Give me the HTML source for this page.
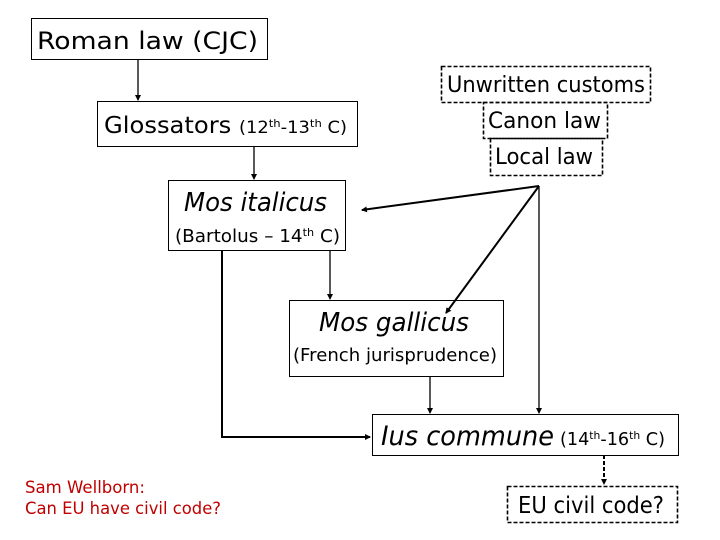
<!DOCTYPE html>
<html><head><meta charset="utf-8"><style>
html,body{margin:0;padding:0;background:#fff;}
svg{display:block;}
text{font-family:"DejaVu Sans","Liberation Sans",sans-serif;fill:#000;}
</style></head><body>
<svg width="720" height="540" viewBox="0 0 720 540" xmlns="http://www.w3.org/2000/svg">
<defs>
<marker id="a" markerWidth="6" markerHeight="6" refX="5" refY="3" orient="auto" markerUnits="userSpaceOnUse"><path d="M0,0 L6,3 L0,6 z" fill="#000"/></marker>
</defs>
<g fill="none" stroke="#000" stroke-width="1">
<rect x="31.5" y="18.5" width="236" height="41"/>
<rect x="97.5" y="101.5" width="260" height="45"/>
<rect x="168.5" y="180.5" width="177" height="70"/>
<rect x="289.5" y="300.5" width="214" height="76"/>
<rect x="372.5" y="414.5" width="306" height="41"/>
</g>
<g fill="none" stroke="#000" stroke-width="1.6" stroke-dasharray="4,2">
<rect x="441.5" y="66.5" width="209" height="36"/>
<rect x="483.5" y="102.5" width="124" height="36"/>
<rect x="490.5" y="138.5" width="112" height="37"/>
<rect x="507.5" y="486.5" width="170" height="36"/>
</g>
<g fill="none" stroke="#000" stroke-width="1.3">
<line x1="138" y1="59" x2="138" y2="100" marker-end="url(#a)"/>
<line x1="254" y1="146" x2="254" y2="179" marker-end="url(#a)"/>
<line x1="330" y1="250" x2="330" y2="299" marker-end="url(#a)"/>
<line x1="430" y1="376" x2="430" y2="413" marker-end="url(#a)"/>
<line x1="539" y1="186" x2="539" y2="413" marker-end="url(#a)"/>
</g>
<g fill="none" stroke="#000" stroke-width="2">
<line x1="539" y1="186" x2="362" y2="210" marker-end="url(#a)"/>
<line x1="539" y1="186" x2="446" y2="313" marker-end="url(#a)"/>
<polyline points="222,250 222,437 370,437" marker-end="url(#a)"/>
<line x1="604" y1="455" x2="604" y2="484" stroke-dasharray="4,2" marker-end="url(#a)"/>
</g>
<text x="37" y="49" font-size="24" textLength="221" lengthAdjust="spacingAndGlyphs">Roman law (CJC)</text>
<text x="104" y="133" font-size="23" textLength="243" lengthAdjust="spacingAndGlyphs">Glossators <tspan font-size="17">(12<tspan font-size="11" dy="-6">th</tspan><tspan dy="6">-13</tspan><tspan font-size="11" dy="-6">th</tspan><tspan dy="6"> C)</tspan></tspan></text>
<text x="447" y="92" font-size="22" textLength="198" lengthAdjust="spacingAndGlyphs">Unwritten customs</text>
<text x="488" y="128" font-size="22" textLength="113" lengthAdjust="spacingAndGlyphs">Canon law</text>
<text x="495" y="164" font-size="22" textLength="98" lengthAdjust="spacingAndGlyphs">Local law</text>
<text x="184" y="211" font-size="26" font-style="italic" textLength="143" lengthAdjust="spacingAndGlyphs">Mos italicus</text>
<text x="175" y="242" font-size="18" textLength="165" lengthAdjust="spacingAndGlyphs">(Bartolus – 14<tspan font-size="11" dy="-6">th</tspan><tspan dy="6"> C)</tspan></text>
<text x="319" y="331" font-size="26" font-style="italic" textLength="150" lengthAdjust="spacingAndGlyphs">Mos gallicus</text>
<text x="293" y="361" font-size="18" textLength="204" lengthAdjust="spacingAndGlyphs">(French jurisprudence)</text>
<text x="381" y="445" font-size="27" font-style="italic" font-family="Liberation Serif,serif" textLength="173" lengthAdjust="spacingAndGlyphs">Ius commune</text>
<text x="560" y="445" font-size="18" textLength="105" lengthAdjust="spacingAndGlyphs">(14<tspan font-size="11" dy="-6">th</tspan><tspan dy="6">-16</tspan><tspan font-size="11" dy="-6">th</tspan><tspan dy="6"> C)</tspan></text>
<text x="518" y="513" font-size="23" textLength="146" lengthAdjust="spacingAndGlyphs">EU civil code?</text>
<text x="25" y="493" font-size="17" style="fill:#c00000" font-family="Liberation Sans,sans-serif" textLength="120" lengthAdjust="spacingAndGlyphs">Sam Wellborn:</text>
<text x="25" y="514" font-size="17" style="fill:#c00000" font-family="Liberation Sans,sans-serif" textLength="196" lengthAdjust="spacingAndGlyphs">Can EU have civil code?</text>
</svg>
</body></html>
